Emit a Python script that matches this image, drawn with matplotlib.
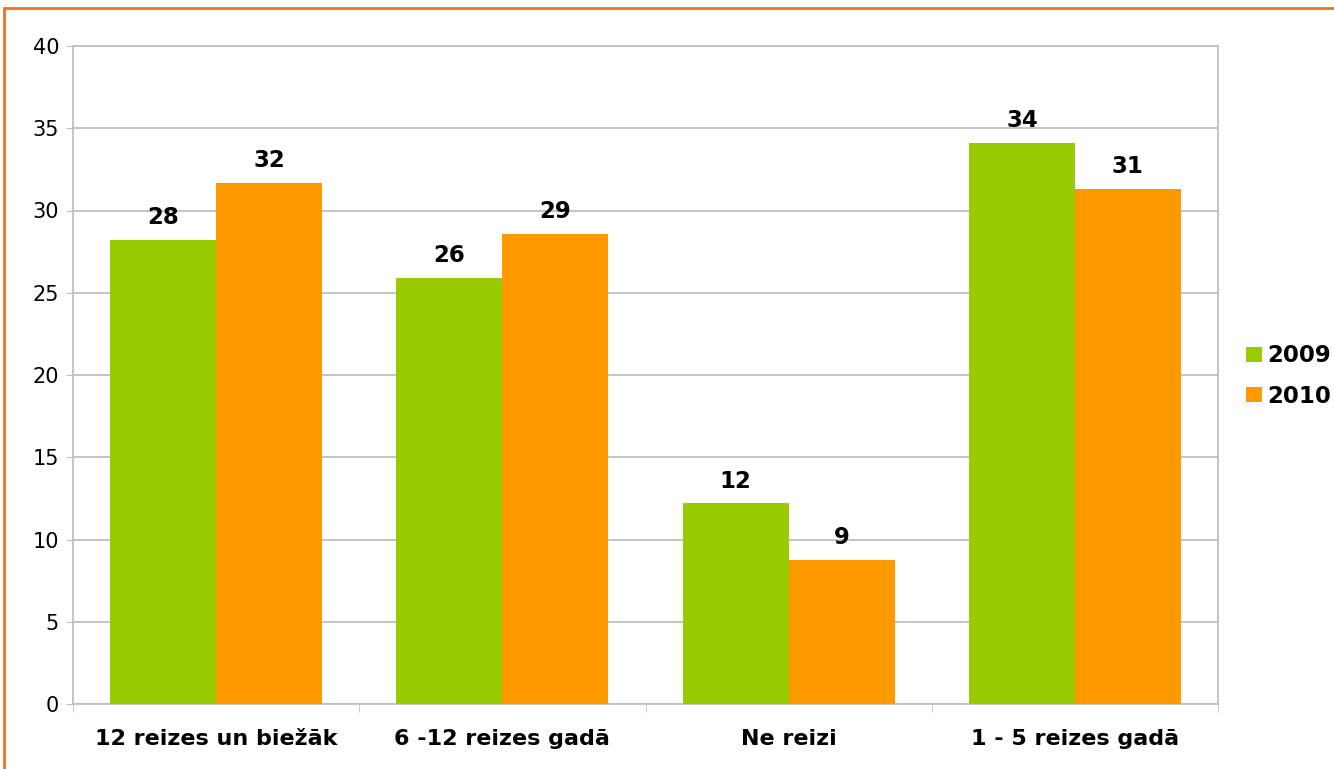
import matplotlib.pyplot as plt
import numpy as np
from matplotlib.patches import Rectangle

categories = ['12 reizes un biežāk', '6 -12 reizes gadā', 'Ne reizi', '1 - 5 reizes gadā']
values_2009 = [28.2, 25.9, 12.2, 34.1]
values_2010 = [31.7, 28.6, 8.75, 31.3]
labels_2009 = ['28', '26', '12', '34']
labels_2010 = ['32', '29', '9', '31']

W, H = 1334, 769
fig = plt.figure(figsize=(W / 100, H / 100), dpi=100)
ax = fig.add_axes([73 / W, 1 - 704 / H, (1218 - 73) / W, (704 - 46) / H])

x = np.arange(len(categories))
w = 0.37
green = '#99cc00'
orange = '#ff9900'
b1 = ax.bar(x - w / 2, values_2009, w, color=green, label='2009', zorder=3)
b2 = ax.bar(x + w / 2, values_2010, w, color=orange, label='2010', zorder=3)

for bars, labs in ((b1, labels_2009), (b2, labels_2010)):
    for b, t in zip(bars, labs):
        ax.text(b.get_x() + b.get_width() / 2, b.get_height() + 0.65, t,
                ha='center', va='bottom', fontsize=16.5, fontweight='bold')

ax.set_xlim(-0.5, len(categories) - 0.5)
ax.set_ylim(0, 40)
ax.set_yticks(range(0, 41, 5))
ax.tick_params(axis='y', labelsize=15, length=5, color='#bfbfbf', pad=5)
ax.set_xticks(x)
ax.set_xticklabels(categories, fontsize=16, fontweight='bold')
ax.tick_params(axis='x', length=0, pad=18)
ax.set_xticks(np.arange(-0.5, len(categories), 1), minor=True)
ax.tick_params(axis='x', which='minor', length=6, color='#bfbfbf')
ax.grid(axis='y', color='#bfbfbf', linewidth=1.3, zorder=0)
for s in ax.spines.values():
    s.set_color('#bfbfbf')
    s.set_linewidth(1.3)

leg = fig.legend(handles=[b1, b2], loc='center left',
                 bbox_to_anchor=(1246 / W, 1 - 376 / H), frameon=False,
                 prop={'weight': 'bold', 'size': 16.5}, handlelength=0.68,
                 handleheight=0.68, handletextpad=0.25, labelspacing=0.75,
                 borderpad=0, borderaxespad=0)

# orange chart border
fig.patches.append(Rectangle((4 / W, -0.1), 1.2, 1 - 8 / H + 0.1,
                             transform=fig.transFigure, fill=False,
                             edgecolor='#f07020', linewidth=2))

fig.savefig('out.png', dpi=100)
